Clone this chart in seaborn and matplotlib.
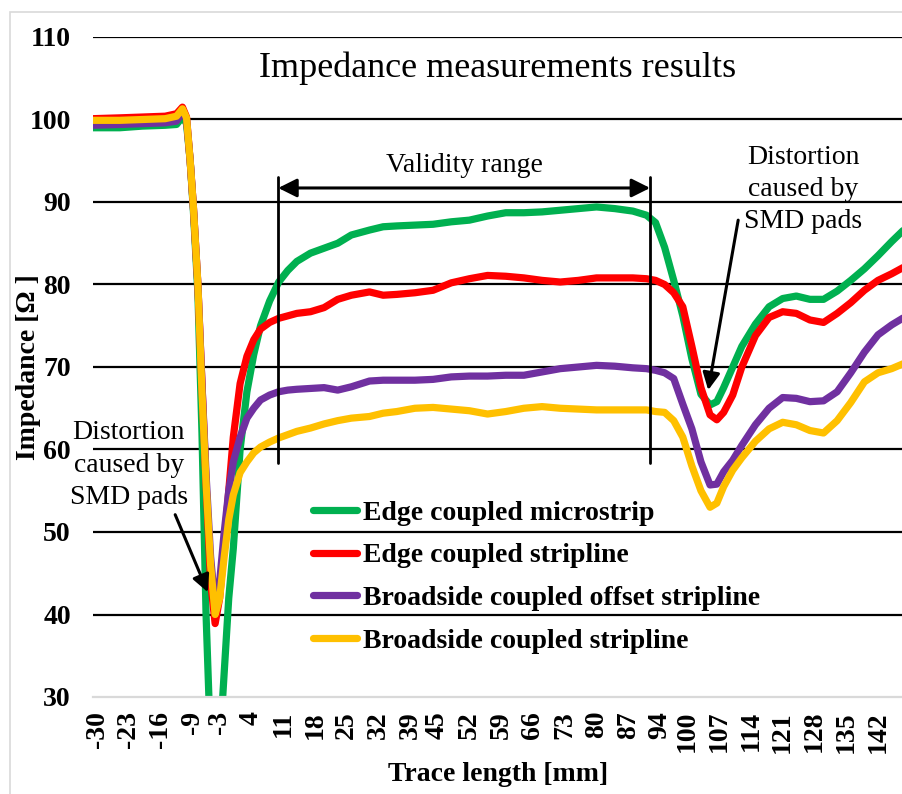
"""
Impedance measurement results for four differential trace types
"""

import pandas as pd
import matplotlib.pyplot as plt
import seaborn as sns
from matplotlib.patches import Rectangle

sns.set_style('white')
plt.rcParams['font.family'] = ['Liberation Serif', 'DejaVu Serif']
plt.rcParams['text.color'] = 'black'
plt.rcParams['axes.labelcolor'] = 'black'
plt.rcParams['xtick.color'] = 'black'
plt.rcParams['ytick.color'] = 'black'

# Trace length samples [mm]
trace_mm = [-30.9, -25, -20, -15, -12.5, -11.2, -10.3, -9.5, -8.8, -7.8, -6.9, -6.0, -5.0,
            -4.0, -3.0, -2.0, -1.0, 0, 1.5, 3, 4.5, 6, 8, 10, 12, 14, 17, 20, 23, 26, 30,
            33, 36, 40, 44, 48, 52, 56, 60, 64, 68, 72, 76, 80, 84, 88, 91, 93, 95, 97,
            99, 101, 103, 105, 106.5, 108, 110, 112, 115, 118, 121, 124, 127, 130, 133,
            136, 139, 142, 145, 148]

edge_microstrip = [99.0, 99.0, 99.2, 99.3, 99.4, 100.3, 99.5, 95, 89, 79, 62, 40, 24,
                   20, 24, 33, 42, 48, 60, 67, 71.5, 75, 78, 80.3, 81.7, 82.8, 83.8, 84.4,
                   85, 86, 86.6, 87, 87.1, 87.2, 87.3, 87.6, 87.8, 88.3, 88.7, 88.7, 88.8,
                   89, 89.2, 89.4, 89.2, 88.9, 88.4, 87.5, 84.5, 80.5, 76.2, 71, 66.7, 65.4,
                   65.8, 67.5, 70, 72.5, 75.2, 77.3, 78.3, 78.6, 78.2, 78.2, 79.2, 80.5,
                   81.9, 83.5, 85.2, 86.8]

edge_stripline = [100.1, 100.2, 100.3, 100.4, 100.7, 101.5, 100.3, 95, 89.5, 80, 68, 56,
                  44, 38.9, 42, 48.5, 55, 61.5, 68, 71.3, 73.3, 74.6, 75.4, 75.9, 76.2,
                  76.5, 76.7, 77.2, 78.2, 78.7, 79.1, 78.7, 78.8, 79, 79.3, 80.2, 80.7,
                  81.1, 81, 80.8, 80.5, 80.3, 80.5, 80.8, 80.8, 80.8, 80.7, 80.5, 80, 79,
                  77.3, 72.5, 67.5, 64.2, 63.6, 64.5, 66.6, 70, 73.8, 76, 76.7, 76.5, 75.7,
                  75.4, 76.5, 77.8, 79.3, 80.5, 81.3, 82.2]

broadside_offset = [99.3, 99.4, 99.5, 99.6, 99.8, 100.9, 100, 95, 89.5, 80, 68, 57, 47,
                    41, 44, 50, 55, 58.5, 61.5, 63.8, 65, 66, 66.6, 67, 67.2, 67.3, 67.4,
                    67.5, 67.2, 67.6, 68.3, 68.4, 68.4, 68.4, 68.5, 68.8, 68.9, 68.9, 69,
                    69, 69.4, 69.8, 70, 70.2, 70.1, 69.9, 69.8, 69.6, 69.3, 68.6, 65.5,
                    62.5, 58.5, 55.7, 55.8, 57.3, 58.7, 60.5, 63, 65, 66.3, 66.2, 65.8,
                    65.9, 67, 69.3, 71.8, 73.9, 75.1, 76.1]

broadside = [99.9, 99.9, 100, 100.1, 100.4, 101.3, 100.2, 95, 89.5, 80, 67, 56, 46, 40,
             42, 47, 51.5, 54.5, 57.2, 58.5, 59.6, 60.3, 60.9, 61.4, 61.8, 62.2, 62.6,
             63.1, 63.5, 63.8, 64, 64.4, 64.6, 65, 65.1, 64.9, 64.7, 64.3, 64.6, 65,
             65.2, 65, 64.9, 64.8, 64.8, 64.8, 64.8, 64.6, 64.5, 63.5, 61.5, 58, 55, 53,
             53.5, 55.5, 57.5, 59, 61, 62.5, 63.3, 63, 62.3, 62, 63.5, 65.7, 68.2, 69.3,
             69.8, 70.5]

series_names = ['Edge coupled microstrip', 'Edge coupled stripline',
                'Broadside coupled offset stripline', 'Broadside coupled stripline']
series_colors = ['#00B050', '#FF0000', '#7030A0', '#FFC000']

x_tick_labels = [-30, -23, -16, -9, -3, 4, 11, 18, 25, 32, 39, 45, 52, 59, 66, 73, 80,
                 87, 94, 100, 107, 114, 121, 128, 135, 142]
y_ticks = [30, 40, 50, 60, 70, 80, 90, 100, 110]

# validity range markers [mm]
validity_start = 9.9
validity_end = 91.8

# long-form table for seaborn
frames = []
for name, values in zip(series_names,
                        [edge_microstrip, edge_stripline, broadside_offset, broadside]):
    frames.append(pd.DataFrame({'Trace length': trace_mm, 'Impedance': values,
                                'Type': name}))
df = pd.concat(frames, ignore_index=True)

fig = plt.figure(figsize=(9.03, 7.94), dpi=100)
ax = fig.add_axes([93 / 903, 1 - 697 / 794, 1 - 93 / 903, (697 - 37) / 794])

sns.lineplot(data=df, x='Trace length', y='Impedance', hue='Type',
             palette=dict(zip(series_names, series_colors)), hue_order=series_names,
             sort=False, lw=5.2, ax=ax, legend=True)
for line in ax.get_lines():
    line.set_solid_capstyle('round')
    line.set_solid_joinstyle('round')

ax.set_xlim(-30.9, 147.5)
ax.set_ylim(30, 110)
ax.set_yticks(y_ticks)
ax.set_xticks(x_tick_labels)
ax.set_xticklabels([str(v) for v in x_tick_labels], rotation=90,
                   fontsize=20, fontweight='bold')
ax.set_yticklabels([str(v) for v in y_ticks], fontsize=20, fontweight='bold')
ax.tick_params(axis='both', length=0)
ax.tick_params(axis='y', pad=16)
ax.tick_params(axis='x', pad=10)

ax.yaxis.grid(True, color='black', lw=1.6)
ax.set_axisbelow(True)
ax.yaxis.get_gridlines()[0].set_visible(False)
for side in ['left', 'right', 'top']:
    ax.spines[side].set_visible(False)
ax.spines['bottom'].set_color('#d9d9d9')
ax.spines['bottom'].set_linewidth(1.6)

ax.set_xlabel('Trace length [mm]', fontsize=20, fontweight='bold')
ax.set_ylabel('Impedance [Ω ]', fontsize=20, fontweight='bold')
ax.xaxis.set_label_coords(0.5, -0.098)
ax.yaxis.set_label_coords(-0.064, 0.5)

ax.text(0.5, 0.953, 'Impedance measurements results', transform=ax.transAxes,
        ha='center', va='center', fontsize=26)

# validity range
ax.plot([validity_start, validity_start], [58.4, 93.0], color='black', lw=2)
ax.plot([validity_end, validity_end], [58.4, 93.0], color='black', lw=2)
ax.annotate('', xy=(validity_end, 91.7), xytext=(validity_start, 91.7),
            arrowprops=dict(arrowstyle='<|-|>', mutation_scale=28, lw=2.2,
                            color='black', shrinkA=0, shrinkB=0))
ax.text((validity_start + validity_end) / 2, 94.4, 'Validity range',
        ha='center', va='center', fontsize=20)

# SMD pad distortion notes
ax.text(-23.0, 58.1, 'Distortion\ncaused by\nSMD pads', ha='center', va='center',
        fontsize=20, linespacing=1.38)
ax.annotate('', xy=(-5.6, 42.7), xytext=(-12.8, 52.1),
            arrowprops=dict(arrowstyle='-|>', mutation_scale=26, lw=2.2,
                            color='black', shrinkA=0, shrinkB=0))
ax.text(125.5, 91.5, 'Distortion\ncaused by\nSMD pads', ha='center', va='center',
        fontsize=20, linespacing=1.38)
ax.annotate('', xy=(104.6, 67.2), xytext=(111.2, 87.8),
            arrowprops=dict(arrowstyle='-|>', mutation_scale=26, lw=2.2,
                            color='black', shrinkA=0, shrinkB=0))

leg = ax.legend(loc='upper left', bbox_to_anchor=(0.271, 0.298), frameon=False,
                prop={'size': 20, 'weight': 'bold'}, handlelength=1.6,
                handletextpad=0.2, labelspacing=0.62, borderpad=0, borderaxespad=0)
for h in leg.get_lines():
    h.set_linewidth(5.2)
    h.set_solid_capstyle('round')
for t in leg.get_texts():
    t.set_color('black')

# outer chart border
fig.add_artist(Rectangle((10 / 903, -0.1), 1.2, 1 - 12 / 794 + 0.1,
                         transform=fig.transFigure, fill=False,
                         edgecolor='#d9d9d9', lw=1.2))

plt.savefig('out.png', dpi=100)
plt.close()
